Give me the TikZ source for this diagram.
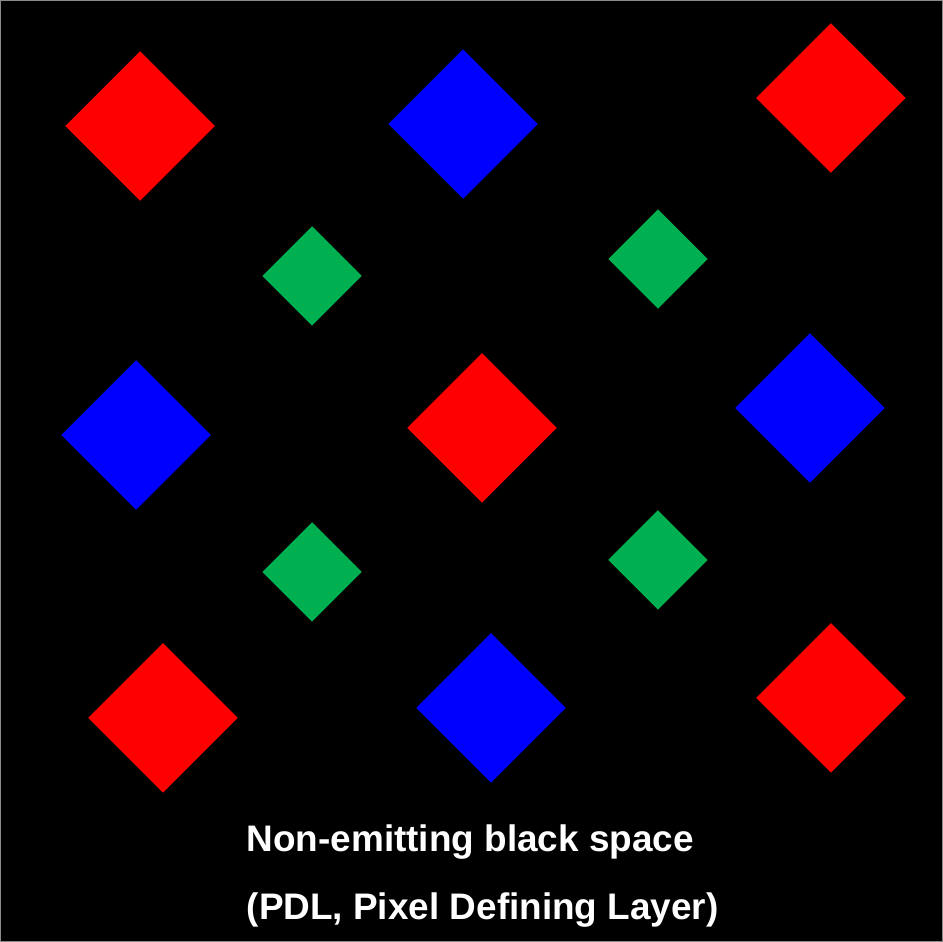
\documentclass[tikz,border=0pt]{standalone}
\usepackage{fontspec}
\setmainfont{Liberation Sans}
\usepackage{tikz}
\usetikzlibrary{shapes.geometric}
\definecolor{pdl}{HTML}{000000}
\definecolor{subr}{HTML}{FF0000}
\definecolor{subg}{HTML}{00B050}
\definecolor{subb}{HTML}{0000FF}
\definecolor{rim}{HTML}{8A8A8A}
\tikzset{
  sub/.style={diamond, draw=none, inner sep=0pt, aspect=1},
  big/.style={sub, minimum width=1.5cm, minimum height=1.5cm},
  small/.style={sub, minimum width=1.0cm, minimum height=1.0cm},
  caption/.style={anchor=base west, text=white, inner sep=0pt, font=\fontsize{10.5}{12}\selectfont\bfseries},
}
\begin{document}
\begin{tikzpicture}[x=0.01cm, y=-0.01cm]
  % panel
  \fill[pdl, draw=rim, line width=0.3pt] (0.5,0.5) rectangle (942.5,941.5);
  \useasboundingbox (0,0) rectangle (943,942);
  % red subpixels
  \node[big, fill=subr] (r1) at (140,126) {};
  \node[big, fill=subr] (r2) at (831,98) {};
  \node[big, fill=subr] (r3) at (482,428) {};
  \node[big, fill=subr] (r4) at (163,718) {};
  \node[big, fill=subr] (r5) at (831,698) {};
  % blue subpixels
  \node[big, fill=subb] (b1) at (463,124) {};
  \node[big, fill=subb] (b2) at (136,435) {};
  \node[big, fill=subb] (b3) at (810,408) {};
  \node[big, fill=subb] (b4) at (491,708) {};
  % green subpixels
  \node[small, fill=subg] (g1) at (312,276) {};
  \node[small, fill=subg] (g2) at (658,259) {};
  \node[small, fill=subg] (g3) at (312,572) {};
  \node[small, fill=subg] (g4) at (658,560) {};
  % caption
  \node[caption] (cap1) at (246,852) {Non-emitting black space};
  \node[caption] (cap2) at (246,920) {(PDL, Pixel Defining Layer)};
\end{tikzpicture}
\end{document}
